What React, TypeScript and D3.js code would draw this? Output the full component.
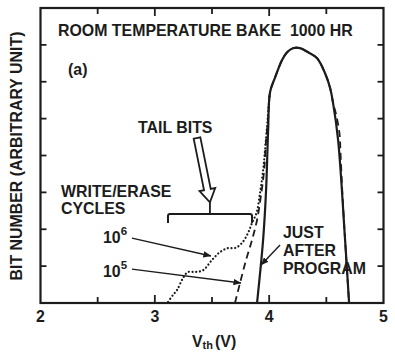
import React from "react";
import * as d3 from "d3";

const W = 395;
const H = 357;

// axis ticks
const X_MAJOR = [2, 3, 4, 5];
const X_MINOR = [2.5, 3, 3.5, 4, 4.5];
const Y_TICKS = [1, 2, 3, 4, 5, 6, 7];

// just after program (solid)
const V_JUST = [3.894, 3.947, 3.973, 3.991, 4.008, 4.052, 4.113, 4.157, 4.209, 4.27, 4.34, 4.419, 4.489, 4.533, 4.559, 4.603, 4.664, 4.699];
const N_JUST = [0, 1.71, 3.06, 4.69, 5.72, 6.12, 6.59, 6.8, 6.91, 6.91, 6.8, 6.64, 6.23, 5.83, 5.42, 4.42, 1.71, 0];

// 10^5 cycles (dashed)
const V_1E5 = [3.701, 3.745, 3.798, 3.85, 3.894, 3.929, 3.956, 3.973, 3.991, 4.008, 4.052, 4.113, 4.157, 4.209, 4.27, 4.34, 4.419, 4.489, 4.533, 4.559, 4.587, 4.615, 4.625, 4.64, 4.664, 4.699];
const N_1E5 = [0, 0.54, 1.17, 1.71, 2.25, 2.93, 3.6, 4.42, 5.0, 5.72, 6.12, 6.59, 6.8, 6.91, 6.91, 6.8, 6.64, 6.23, 5.83, 5.42, 5.09, 4.6, 4.0, 3.0, 1.71, 0];

// 10^6 cycles (dotted)
const V_1E6 = [3.116, 3.159, 3.194, 3.247, 3.29, 3.352, 3.422, 3.501, 3.57, 3.64, 3.701, 3.763, 3.815, 3.85, 3.89, 3.92, 3.947, 3.964, 3.982, 4.0, 4.008];
const N_1E6 = [0.03, 0.22, 0.35, 0.68, 0.84, 0.84, 0.89, 1.17, 1.38, 1.49, 1.49, 1.63, 1.9, 2.17, 2.45, 2.98, 3.6, 4.15, 4.82, 5.5, 5.72];

const FONT = "'Liberation Sans', Arial, Helvetica, sans-serif";
const INK = "#1c1c1c";

export default function App() {
  const x = d3.scaleLinear().domain([2, 5]).range([40.5, 383.5]);
  const y = d3.scaleLinear().domain([0, 8]).range([303, 8]);
  const line = d3
    .line<[number, number]>()
    .x((d) => x(d[0]))
    .y((d) => y(d[1]))
    .curve(d3.curveCatmullRom.alpha(0.5));

  const pts = (vs: number[], ns: number[]) => vs.map((v, i) => [v, ns[i]] as [number, number]);

  // annotation anchor points (data units)
  const a6 = { x1: x(2.8), y1: y(1.76), x2: x(3.491), y2: y(1.275) };
  const a5 = { x1: x(2.8), y1: y(0.92), x2: x(3.754), y2: y(0.542) };
  const aj = { x1: x(4.095), y1: y(1.573), x2: x(3.929), y2: y(1.031) };
  const brL = x(3.115), brR = x(3.85), brTop = y(2.414), brBot = y(2.17);
  const stemX = x(3.482);

  // hollow arrow
  const S = [x(3.369), y(4.475)];
  const T = [x(3.482), y(2.73)];
  const dx = T[0] - S[0], dy = T[1] - S[1];
  const L = Math.hypot(dx, dy);
  const u = [dx / L, dy / L];
  const n = [u[1], -u[0]];
  const hw = 3.4, hh = 8, hl = 13;
  const B = [T[0] - hl * u[0], T[1] - hl * u[1]];
  const P = (p: number[], k: number) => [p[0] + k * n[0], p[1] + k * n[1]];
  const arrowPts = [P(S, hw), P(B, hw), P(B, hh), T, P(B, -hh), P(B, -hw), P(S, -hw)]
    .map((p) => p.join(","))
    .join(" ");

  const textStyle = { fontFamily: FONT, fontWeight: 700, fontSize: 15.9, fill: INK } as const;

  return (
    <svg width={W} height={H} style={{ position: "absolute", left: 0, top: 0, background: "#fff" }}>
      <defs>
        <marker id="ah" viewBox="0 0 10 8" refX="9.5" refY="4" markerWidth="8" markerHeight="6.5" markerUnits="userSpaceOnUse" orient="auto">
          <path d="M0,0 L10,4 L0,8 Z" fill={INK} />
        </marker>
      </defs>
      <rect width={W} height={H} fill="#fff" />

      {/* frame */}
      <rect x={x(2)} y={y(8)} width={x(5) - x(2)} height={y(0) - y(8)} fill="none" stroke={INK} strokeWidth={2.2} />

      {/* ticks */}
      {X_MINOR.map((t) => (
        <g key={"xt" + t}>
          <line x1={x(t)} x2={x(t)} y1={y(0)} y2={y(0) - (t % 1 === 0 ? 8 : 6)} stroke={INK} strokeWidth={1.8} />
          <line x1={x(t)} x2={x(t)} y1={y(8)} y2={y(8) + (t % 1 === 0 ? 8 : 6)} stroke={INK} strokeWidth={1.8} />
        </g>
      ))}
      {Y_TICKS.map((t) => (
        <g key={"yt" + t}>
          <line x1={x(2)} x2={x(2) + 6} y1={y(t)} y2={y(t)} stroke={INK} strokeWidth={1.8} />
          <line x1={x(5)} x2={x(5) - 6} y1={y(t)} y2={y(t)} stroke={INK} strokeWidth={1.8} />
        </g>
      ))}
      {X_MAJOR.map((t) => (
        <text key={"xl" + t} x={x(t)} y={322} textAnchor="middle" style={textStyle}>
          {t}
        </text>
      ))}

      {/* curves */}
      <path d={line(pts(V_1E6, N_1E6)) || ""} fill="none" stroke={INK} strokeWidth={2.2} strokeDasharray="0.1 3.6" strokeLinecap="round" />
      <path d={line(pts(V_1E5, N_1E5)) || ""} fill="none" stroke={INK} strokeWidth={1.8} strokeDasharray="7 4.5" />
      <path d={line(pts(V_JUST, N_JUST)) || ""} fill="none" stroke={INK} strokeWidth={2.2} />

      {/* annotations */}
      <line x1={a6.x1} y1={a6.y1} x2={a6.x2} y2={a6.y2} stroke={INK} strokeWidth={1.4} markerEnd="url(#ah)" />
      <line x1={a5.x1} y1={a5.y1} x2={a5.x2} y2={a5.y2} stroke={INK} strokeWidth={1.4} markerEnd="url(#ah)" />
      <line x1={aj.x1} y1={aj.y1} x2={aj.x2} y2={aj.y2} stroke={INK} strokeWidth={1.4} markerEnd="url(#ah)" />
      <path
        d={`M${brL},${brBot} L${brL},${brTop + 2} Q${brL},${brTop} ${brL + 2},${brTop} L${brR - 2},${brTop} Q${brR},${brTop} ${brR},${brTop + 2} L${brR},${brBot}`}
        fill="none"
        stroke={INK}
        strokeWidth={2}
      />
      <line x1={stemX} x2={stemX} y1={brTop} y2={T[1]} stroke={INK} strokeWidth={1.8} />
      <polygon points={arrowPts} fill="#fff" stroke={INK} strokeWidth={1.8} strokeLinejoin="miter" />

      {/* texts */}
      <text x={58} y={36} style={textStyle}>ROOM TEMPERATURE BAKE&#160;&#160;1000 HR</text>
      <text x={68} y={75} style={textStyle}>(a)</text>
      <text x={138} y={133} style={textStyle}>TAIL BITS</text>
      <text x={61} y={197} style={textStyle}>WRITE/ERASE</text>
      <text x={61} y={214} style={textStyle}>CYCLES</text>
      <text x={103} y={243} style={textStyle}>
        10<tspan dy={-8} fontSize={11.5}>6</tspan>
      </text>
      <text x={103} y={277} style={textStyle}>
        10<tspan dy={-8} fontSize={11.5}>5</tspan>
      </text>
      <text x={283} y={238} style={textStyle}>JUST</text>
      <text x={283} y={256} style={textStyle}>AFTER</text>
      <text x={283} y={274} style={textStyle}>PROGRAM</text>

      <text x={192} y={347} style={textStyle}>
        V<tspan fontSize={11} dy={2}>th</tspan>
        <tspan dy={-2} dx={2}>(V)</tspan>
      </text>
      <text transform="translate(22,156) rotate(-90)" textAnchor="middle" style={textStyle}>
        BIT NUMBER (ARBITRARY UNIT)
      </text>
    </svg>
  );
}
